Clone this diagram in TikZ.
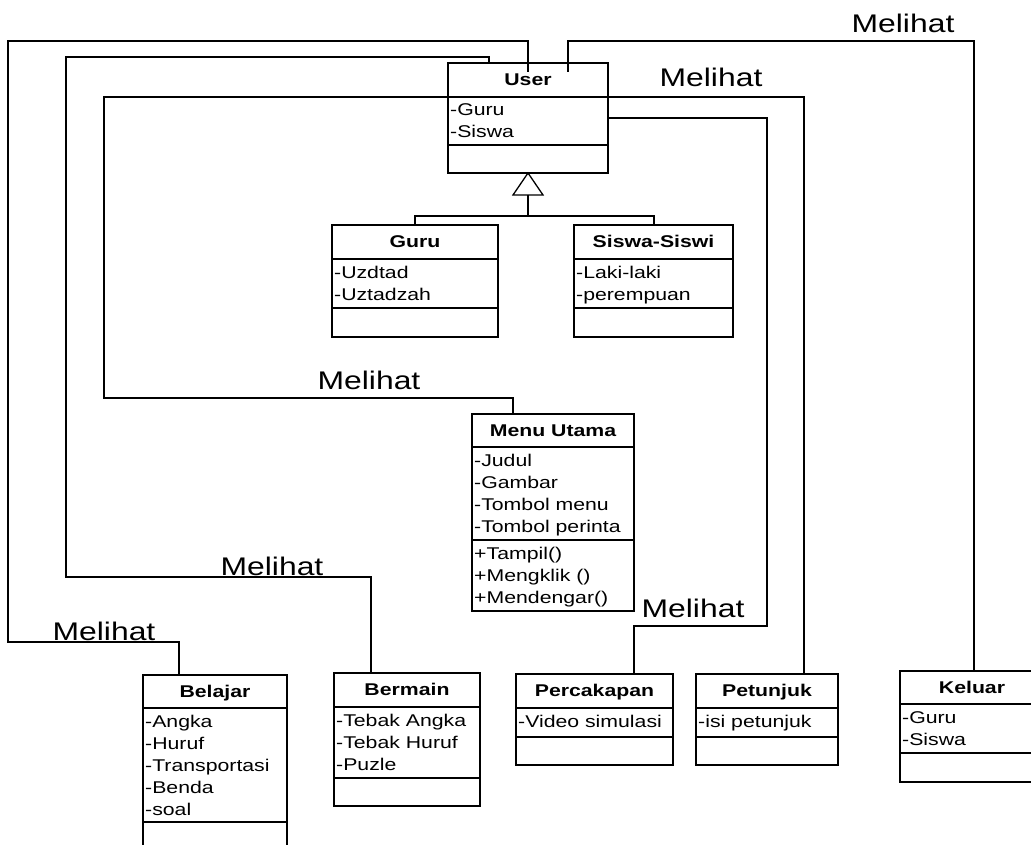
\documentclass[tikz,border=0pt]{standalone}
\usepackage{fontspec}
\setmainfont{Liberation Sans}[FakeStretch=1.25]
\begin{document}
\begin{tikzpicture}[x=1pt,y=-1pt,
  conn/.style={draw, line width=1.3pt},
  cls/.style={draw, line width=1.3pt, anchor=north west, inner sep=0pt, outer sep=0pt},
  attr/.style={anchor=base west, inner sep=0pt, font=\fontsize{17}{22}\selectfont},
  ctitle/.style={anchor=base, inner sep=0pt, font=\bfseries\fontsize{17}{22}\selectfont},
  lbl/.style={anchor=base, inner sep=0pt, font=\fontsize{25.5}{30}\selectfont}]
\useasboundingbox (0,0) rectangle (1031,845);
\clip (0,0) rectangle (1031,845);
% ---------- User ----------
\node[cls, minimum width=160pt, minimum height=110pt] (user) at (448,63) {};
\draw[line width=1.3pt] (448,97) -- (608,97) (448,145) -- (608,145);
\node[ctitle] (userT) at (528,85.5) {User};
\node[attr] (userA1) at (450,116) {-Guru};
\node[attr] (userA2) at (450,138) {-Siswa};
% inheritance
\draw[line width=1.3pt, fill=white] (528,173) -- (513,195) -- (543,195) -- cycle;
\draw[conn] (528,195) -- (528,216);
% ---------- Guru ----------
\node[cls, minimum width=166pt, minimum height=112pt] (guru) at (332,225) {};
\draw[line width=1.3pt] (332,259) -- (498,259) (332,308) -- (498,308);
\node[ctitle] (guruT) at (415,247.5) {Guru};
\node[attr] (guruA1) at (334,278) {-Uzdtad};
\node[attr] (guruA2) at (334,300) {-Uztadzah};
% ---------- Siswa-Siswi ----------
\node[cls, minimum width=159pt, minimum height=112pt] (siswa) at (574,225) {};
\draw[line width=1.3pt] (574,259) -- (733,259) (574,308) -- (733,308);
\node[ctitle] (siswaT) at (653.5,247.5) {Siswa-Siswi};
\node[attr] (siswaA1) at (576,278) {-Laki-laki};
\node[attr] (siswaA2) at (576,300) {-perempuan};
\draw[conn] (415,0 |- guru.north) |- (654,216) -- (654,0 |- siswa.north);
% ---------- Menu Utama ----------
\node[cls, minimum width=162pt, minimum height=197pt] (menu) at (472,414) {};
\draw[line width=1.3pt] (472,447) -- (634,447) (472,540) -- (634,540);
\node[ctitle] (menuT) at (553,436.5) {Menu Utama};
\node[attr] (menuA1) at (474,466) {-Judul};
\node[attr] (menuA2) at (474,488) {-Gambar};
\node[attr] (menuA3) at (474,510) {-Tombol menu};
\node[attr] (menuA4) at (474,532) {-Tombol perinta};
\node[attr] (menuM1) at (474,559) {+Tampil()};
\node[attr] (menuM2) at (474,581) {+Mengklik ()};
\node[attr] (menuM3) at (474,603) {+Mendengar()};
% ---------- Belajar ----------
\node[cls, minimum width=144pt, minimum height=205pt] (belajar) at (143,675) {};
\draw[line width=1.3pt] (143,708) -- (287,708) (143,822) -- (287,822);
\node[ctitle] (belajarT) at (215,697.5) {Belajar};
\node[attr] (belajarA1) at (145,727) {-Angka};
\node[attr] (belajarA2) at (145,749) {-Huruf};
\node[attr] (belajarA3) at (145,771) {-Transportasi};
\node[attr] (belajarA4) at (145,793) {-Benda};
\node[attr] (belajarA5) at (145,815) {-soal};
% ---------- Bermain ----------
\node[cls, minimum width=146pt, minimum height=133pt] (bermain) at (334,673) {};
\draw[line width=1.3pt] (334,707) -- (480,707) (334,778) -- (480,778);
\node[ctitle] (bermainT) at (407,695.5) {Bermain};
\node[attr] (bermainA1) at (336,726) {-Tebak Angka};
\node[attr] (bermainA2) at (336,748) {-Tebak Huruf};
\node[attr] (bermainA3) at (336,770) {-Puzle};
% ---------- Percakapan ----------
\node[cls, minimum width=157pt, minimum height=91pt] (percakapan) at (516,674) {};
\draw[line width=1.3pt] (516,708) -- (673,708) (516,737) -- (673,737);
\node[ctitle] (percakapanT) at (594.5,696.5) {Percakapan};
\node[attr] (percakapanA1) at (518,727) {-Video simulasi};
% ---------- Petunjuk ----------
\node[cls, minimum width=142pt, minimum height=91pt] (petunjuk) at (696,674) {};
\draw[line width=1.3pt] (696,708) -- (838,708) (696,737) -- (838,737);
\node[ctitle] (petunjukT) at (767,696.5) {Petunjuk};
\node[attr] (petunjukA1) at (698,727) {-isi petunjuk};
% ---------- Keluar ----------
\node[cls, minimum width=144pt, minimum height=111pt] (keluar) at (900,671) {};
\draw[line width=1.3pt] (900,704) -- (1044,704) (900,753) -- (1044,753);
\node[ctitle] (keluarT) at (972,693.5) {Keluar};
\node[attr] (keluarA1) at (902,723) {-Guru};
\node[attr] (keluarA2) at (902,745) {-Siswa};
% ---------- connectors ----------
\coordinate (uA) at (528,72);
\coordinate (uB) at (568,72);
\draw[conn] (uA) |- (8,41) |- (179,642) -- (179,0 |- belajar.north);
\draw[conn] (uB) |- (974,41) -- (974,0 |- keluar.north);
\draw[conn] (489,0 |- user.north) |- (66,57) |- (371,577) -- (371,0 |- bermain.north);
\draw[conn] (user.west |- 0,97) -- (104,97) |- (513,398) -- (513,0 |- menu.north);
\draw[conn] (user.east |- 0,97) -| (804,0 |- petunjuk.north);
\draw[conn] (user.east |- 0,118) -| (767,626) -| (634,0 |- percakapan.north);
% ---------- labels ----------
\node[lbl] (l1) at (903,33) {Melihat};
\node[lbl] (l2) at (711,87) {Melihat};
\node[lbl] (l3) at (369,389.5) {Melihat};
\node[lbl] (l4) at (272,575) {Melihat};
\node[lbl] (l5) at (104,640) {Melihat};
\node[lbl] (l6) at (693,617) {Melihat};
\end{tikzpicture}
\end{document}
